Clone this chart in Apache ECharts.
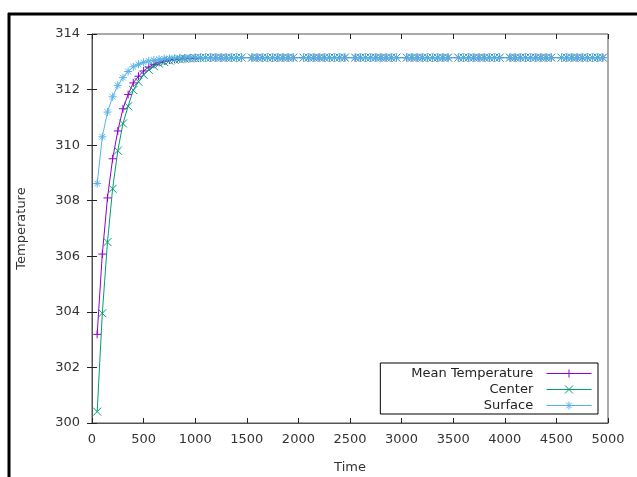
<!DOCTYPE html>
<html>
<head>
<meta charset="utf-8">
<script src="https://cdn.jsdelivr.net/npm/echarts@6/dist/echarts.min.js"></script>
<style>
  html, body { margin: 0; padding: 0; background: #fff; }
  #main { width: 637px; height: 477px; }
</style>
</head>
<body>
<div id="main"></div>
<script>
// time steps (s)
var times = [
    50,100,150,200,250,300,350,400,450,500,
    550,600,650,700,750,800,850,900,950,1000,
    1050,1100,1150,1200,1250,1300,1350,1400,1450,
    1550,1600,1650,1700,1750,1800,1850,1900,1950,
    2050,2100,2150,2200,2250,2300,2350,2400,2450,
    2550,2600,2650,2700,2750,2800,2850,2900,2950,
    3050,3100,3150,3200,3250,3300,3350,3400,3450,
    3550,3600,3650,3700,3750,3800,3850,3900,3950,
    4050,4100,4150,4200,4250,4300,4350,4400,4450,
    4550,4600,4650,4700,4750,4800,4850,4900,4950
];
var meanTemp = [
    303.19,306.08,308.10,309.51,310.51,311.31,311.82,312.24,312.48,312.67,
    312.81,312.91,312.98,313.03,313.06,313.09,313.11,313.12,313.13,313.14,
    313.15,313.15,313.15,313.15,313.15,313.15,313.15,313.15,313.15,
    313.15,313.15,313.15,313.15,313.15,313.15,313.15,313.15,313.15,
    313.15,313.15,313.15,313.15,313.15,313.15,313.15,313.15,313.15,
    313.15,313.15,313.15,313.15,313.15,313.15,313.15,313.15,313.15,
    313.15,313.15,313.15,313.15,313.15,313.15,313.15,313.15,313.15,
    313.15,313.15,313.15,313.15,313.15,313.15,313.15,313.15,313.15,
    313.15,313.15,313.15,313.15,313.15,313.15,313.15,313.15,313.15,
    313.15,313.15,313.15,313.15,313.15,313.15,313.15,313.15,313.15
];
var centerTemp = [
    300.41,303.95,306.51,308.43,309.80,310.78,311.40,311.98,312.28,312.53,
    312.71,312.84,312.93,312.99,313.04,313.07,313.09,313.11,313.12,313.13,
    313.14,313.15,313.15,313.15,313.15,313.15,313.15,313.15,313.15,
    313.15,313.15,313.15,313.15,313.15,313.15,313.15,313.15,313.15,
    313.15,313.15,313.15,313.15,313.15,313.15,313.15,313.15,313.15,
    313.15,313.15,313.15,313.15,313.15,313.15,313.15,313.15,313.15,
    313.15,313.15,313.15,313.15,313.15,313.15,313.15,313.15,313.15,
    313.15,313.15,313.15,313.15,313.15,313.15,313.15,313.15,313.15,
    313.15,313.15,313.15,313.15,313.15,313.15,313.15,313.15,313.15,
    313.15,313.15,313.15,313.15,313.15,313.15,313.15,313.15,313.15
];
var surfaceTemp = [
    308.62,310.30,311.19,311.74,312.15,312.43,312.65,312.82,312.91,312.98,
    313.03,313.06,313.09,313.11,313.12,313.13,313.14,313.14,313.15,313.15,
    313.15,313.15,313.15,313.15,313.15,313.15,313.15,313.15,313.15,
    313.15,313.15,313.15,313.15,313.15,313.15,313.15,313.15,313.15,
    313.15,313.15,313.15,313.15,313.15,313.15,313.15,313.15,313.15,
    313.15,313.15,313.15,313.15,313.15,313.15,313.15,313.15,313.15,
    313.15,313.15,313.15,313.15,313.15,313.15,313.15,313.15,313.15,
    313.15,313.15,313.15,313.15,313.15,313.15,313.15,313.15,313.15,
    313.15,313.15,313.15,313.15,313.15,313.15,313.15,313.15,313.15,
    313.15,313.15,313.15,313.15,313.15,313.15,313.15,313.15,313.15
];
var seriesNames = ['Mean Temperature', 'Center', 'Surface'];
var seriesColors = ['#9400d3', '#009e73', '#56b4e9'];

//gnuplot 的点型 + x *
var symbols = [
    'path://M5,0L5,10M0,5L10,5',
    'path://M0,0L10,10M0,10L10,0',
    'path://M5,0L5,10M0,5L10,5M1.5,1.5L8.5,8.5M1.5,8.5L8.5,1.5'
];
//图例图标：线段加中间的点型
var legendIcons = [
    'path://M0,4L45,4M22.5,0L22.5,8M18.5,4L26.5,4',
    'path://M0,4L45,4M18.5,0L26.5,8M18.5,8L26.5,0',
    'path://M0,4L45,4M22.5,0L22.5,8M18.5,4L26.5,4M19.7,1.2L25.3,6.8M19.7,6.8L25.3,1.2'
];

function pairs(xs, ys){
    var arr = [];
    xs.forEach(function(x, i){
        arr.push([x, ys[i]]);
    })
    return arr;
}

function makeSeries(i, data){
    var color = seriesColors[i];
    return {
        name: seriesNames[i],
        type: 'line',
        data: pairs(times, data),
        symbol: symbols[i],
        symbolSize: 8,
        showAllSymbol: true,
        animation: false,
        itemStyle: { color: color, borderColor: color, borderWidth: 1 },
        lineStyle: { color: color, width: 1 }
    };
}

var legendData = seriesNames.map(function(name, i){
    return {
        name: name,
        icon: legendIcons[i],
        itemStyle: { color: seriesColors[i], borderColor: seriesColors[i], borderWidth: 1 }
    };
});

var fontName = 'DejaVu Sans, sans-serif';
var axisText = { color: '#333', fontSize: 13, fontFamily: fontName };

var myChart = echarts.init(document.getElementById('main'));
var option = {
    backgroundColor: '#fff',
    animation: false,
    grid: {
        left: 92, right: 29, top: 34, bottom: 54,
        outerBoundsMode: 'none', containLabel: false,
        show: true, borderColor: '#555', borderWidth: 1
    },
    legend: {
        data: legendData,
        orient: 'vertical',
        align: 'right',
        right: 39,
        bottom: 63,
        itemWidth: 45,
        itemHeight: 8,
        itemGap: 3,
        padding: [4, 6, 2, 31],
        borderColor: '#000',
        borderWidth: 1,
        backgroundColor: '#fff',
        formatter: function(name){ return name + '  '; },
        textStyle: { color: '#222', fontSize: 13, fontFamily: fontName }
    },
    xAxis: [{
        type: 'value',
        min: 0, max: 5000, interval: 500,
        name: 'Time', nameLocation: 'middle', nameGap: 38,
        nameTextStyle: axisText,
        axisLine: { show: true, lineStyle: { color: '#555' } },
        axisTick: { inside: true, length: 5, lineStyle: { color: '#222' } },
        axisLabel: Object.assign({ margin: 10, formatter: function(v){ return String(v); } }, axisText),
        splitLine: { show: false }
    }, {
        type: 'value', position: 'top',
        min: 0, max: 5000, interval: 500,
        axisLine: { show: false },
        axisTick: { inside: true, length: 5, lineStyle: { color: '#222' } },
        axisLabel: { show: false },
        splitLine: { show: false }
    }],
    yAxis: [{
        type: 'value',
        min: 300, max: 314, interval: 2,
        name: 'Temperature', nameLocation: 'middle', nameGap: 64, nameRotate: 90,
        nameTextStyle: axisText,
        axisLine: { show: true, lineStyle: { color: '#555' } },
        axisTick: { inside: true, length: 5, lineStyle: { color: '#222' } },
        axisLabel: Object.assign({ margin: 12 }, axisText),
        splitLine: { show: false }
    }, {
        type: 'value', position: 'right',
        min: 300, max: 314, interval: 2,
        axisLine: { show: false },
        axisTick: { inside: true, length: 5, lineStyle: { color: '#222' } },
        axisLabel: { show: false },
        splitLine: { show: false }
    }],
    graphic: [
        { type: 'line', shape: { x1: 8, y1: 14, x2: 637, y2: 14 }, style: { stroke: '#000', lineWidth: 3 } },
        { type: 'line', shape: { x1: 9, y1: 13, x2: 9, y2: 477 }, style: { stroke: '#000', lineWidth: 3 } }
    ],
    series: [
        makeSeries(0, meanTemp),
        makeSeries(1, centerTemp),
        makeSeries(2, surfaceTemp)
    ]
};
myChart.setOption(option);
</script>
</body>
</html>
